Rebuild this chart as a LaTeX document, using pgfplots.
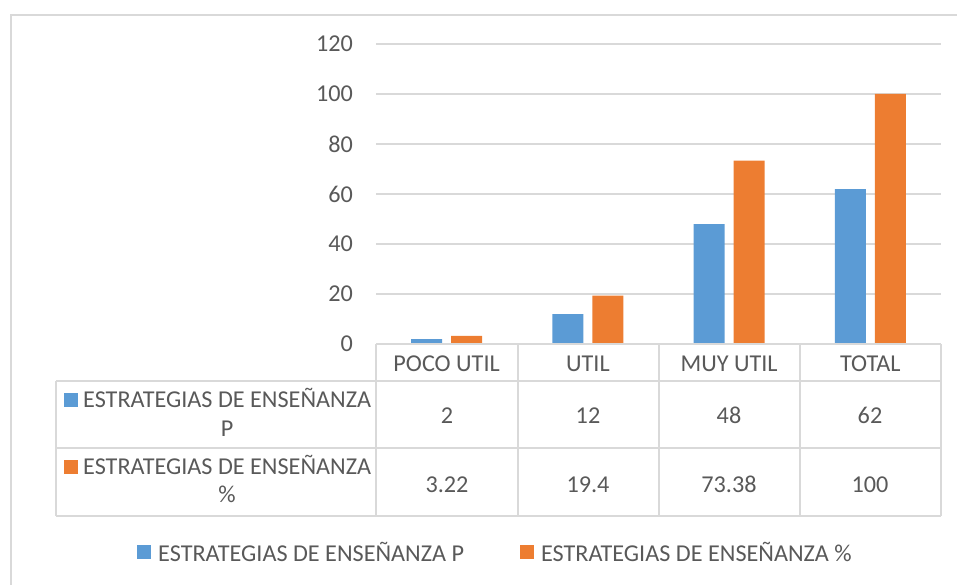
\documentclass[border=0pt]{standalone}
\usepackage{pgfplots}
\pgfplotsset{compat=1.18}
\usepackage{pgfplotstable}
\usepackage{fontspec}
\setmainfont{Carlito}

\definecolor{txt}{HTML}{595959}
\definecolor{grd}{HTML}{D9D9D9}
\definecolor{cblue}{HTML}{5B9BD5}
\definecolor{corange}{HTML}{ED7D31}

\newcommand{\fs}{\fontsize{24.2}{29}\selectfont}

% categoria, P, %
\pgfplotstableread{
x P pct
0 2 3.22
1 12 19.4
2 48 73.38
3 62 100
}\datos

\begin{document}
\begin{tikzpicture}[x=1pt,y=1pt,font=\fs,text=txt]
\useasboundingbox (0,0) rectangle (957,584);
% marco exterior
\draw[grd, line width=1.5pt] (11,-10) -- (11,569) -- (970,569);

\begin{axis}[
    at={(376pt,240pt)}, anchor=south west,
    scale only axis, width=565pt, height=300pt,
    ybar=9pt, bar width=31pt,
    xmin=-0.5, xmax=3.5, ymin=0, ymax=120,
    ytick={0,20,...,120},
    xtick=data,
    xticklabels={POCO UTIL,UTIL,MUY UTIL,TOTAL},
    axis line style={draw=none},
    major tick length=0pt,
    ymajorgrids, grid style={grd, line width=1.2pt},
    tick label style={font=\fs, text=txt},
    /pgf/number format/assume math mode=true,
    yticklabel style={anchor=east, inner sep=0pt, xshift=-23pt},
    xticklabel style={anchor=base, inner sep=0pt, yshift=-27pt},
    legend style={at={(0.2097,-0.6933)}, anchor=center, draw=none, fill=none,
        font=\fs, text=txt, legend columns=2,
        nodes={inner sep=0pt, text depth=0pt},
        /tikz/every odd column/.append style={column sep=7pt},
        /tikz/every even column/.append style={column sep=56pt}},
    legend image code/.code={\fill[#1] (0pt,-7pt) rectangle (14pt,7pt);},
    clip=false,
]
\addplot[fill=cblue, draw=none] table[x=x, y=P] {\datos};
\addplot[fill=corange, draw=none] table[x=x, y=pct] {\datos};
\legend{ESTRATEGIAS DE ENSEÑANZA P, ESTRATEGIAS DE ENSEÑANZA \%}
\end{axis}

% tabla de datos
\begin{scope}[grd, line width=1.5pt]
\draw (376,240) -- (941,240);
\draw (56,203) -- (941,203);
\draw (56,136) -- (941,136);
\draw (56,68) -- (941,68);
\draw (56,203) -- (56,68);
\foreach \xx in {376,518,659,800,941} \draw (\xx,240) -- (\xx,68);
\end{scope}

\fill[cblue] (64,177) rectangle (78,191);
\node[anchor=base west, inner sep=0pt] at (83,177) {ESTRATEGIAS DE ENSEÑANZA};
\node[anchor=base, inner sep=0pt] at (227,148) {P};
\fill[corange] (64,110) rectangle (78,124);
\node[anchor=base west, inner sep=0pt] at (83,110) {ESTRATEGIAS DE ENSEÑANZA};
\node[anchor=base, inner sep=0pt] at (227,82) {\%};

\foreach \cx/\va/\vb in {447/2/3.22, 588/12/19.4, 729/48/73.38, 870/62/100} {
  \node[anchor=base, inner sep=0pt] at (\cx,161) {\va};
  \node[anchor=base, inner sep=0pt] at (\cx,92) {\vb};
}
\end{tikzpicture}
\end{document}
